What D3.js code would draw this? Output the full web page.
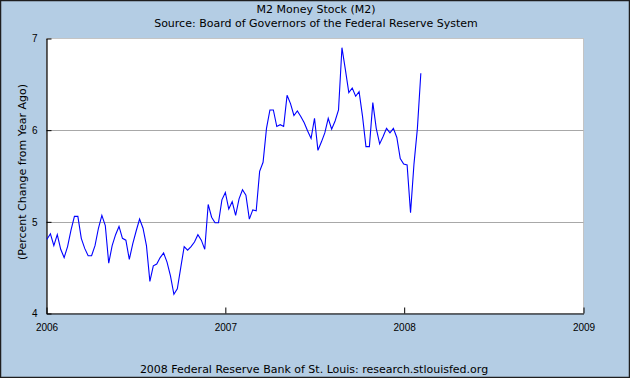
<!DOCTYPE html>
<html lang="en">
<head>
<meta charset="UTF-8">
<title>M2 Money Stock</title>
<script src="https://cdn.jsdelivr.net/npm/d3@7"></script>
<style>
    body { margin: 0; background: #fff; }
    svg { display: block; font-family: "DejaVu Sans", Verdana, sans-serif; }
    .tick text { font-size: 10px; fill: #000; }
</style>
</head>
<body>
<script>
// weekly readings, percent change from a year ago (Mondays from 2006-01-02)
var firstWeek = "2006-01-02";
var m2Change = [
    4.81, 4.87, 4.74, 4.86, 4.70, 4.61, 4.73, 4.91, 5.06, 5.06,
    4.82, 4.71, 4.63, 4.63, 4.74, 4.93, 5.07, 4.96, 4.55, 4.74,
    4.86, 4.95, 4.82, 4.80, 4.59, 4.76, 4.90, 5.03, 4.93, 4.74,
    4.35, 4.52, 4.54, 4.61, 4.66, 4.56, 4.41, 4.21, 4.27, 4.50,
    4.73, 4.69, 4.73, 4.78, 4.86, 4.80, 4.70, 5.19, 5.05, 4.99,
    4.99, 5.24, 5.32, 5.14, 5.22, 5.07, 5.25, 5.35, 5.29, 5.03,
    5.13, 5.12, 5.55, 5.65, 6.02, 6.22, 6.22, 6.04, 6.06, 6.04,
    6.38, 6.29, 6.16, 6.21, 6.15, 6.08, 5.99, 5.91, 6.13, 5.78,
    5.87, 5.97, 6.13, 6.01, 6.10, 6.22, 6.90, 6.66, 6.41, 6.46,
    6.37, 6.42, 6.15, 5.82, 5.82, 6.30, 6.02, 5.85, 5.93, 6.02,
    5.97, 6.02, 5.92, 5.69, 5.63, 5.62, 5.10, 5.63, 6.02, 6.62
];
var yearTicks = ["2006", "2007", "2008", "2009"];
var valueTicks = [4, 5, 6, 7];
var gridValues = [5, 6];

var W = 630, H = 378;
var plotL = 46.5, plotR = 583.5, plotT = 38.5, plotB = 313.5;

var parse = d3.timeParse("%Y-%m-%d");
var start = parse(firstWeek);
var series = m2Change.map(function (v, i) {
    return { date: d3.timeDay.offset(start, 7 * i), value: v };
});

var svg = d3.select("body").append("svg")
    .attr("width", W)
    .attr("height", H);

// outer frame
svg.append("rect")
    .attr("x", 0.5).attr("y", 0.5)
    .attr("width", W - 1).attr("height", H - 1)
    .attr("fill", "#b4cde4")
    .attr("stroke", "#1e1e1e")
    .attr("stroke-width", 1.5);

var x = d3.scaleTime()
    .domain([parse("2006-01-01"), parse("2009-01-01")])
    .range([plotL, plotR]);
var y = d3.scaleLinear()
    .domain([4, 7])
    .range([plotB, plotT]);

// plot area
svg.append("rect")
    .attr("x", plotL).attr("y", plotT)
    .attr("width", plotR - plotL).attr("height", plotB - plotT)
    .attr("fill", "#fff")
    .attr("stroke", "#c4c4c4");

svg.append("g").selectAll("line")
    .data(gridValues)
    .enter().append("line")
    .attr("x1", plotL).attr("x2", plotR)
    .attr("y1", function (d) { return Math.round(y(d)) + 0.5; })
    .attr("y2", function (d) { return Math.round(y(d)) + 0.5; })
    .attr("stroke", "#a8a8a8");

// axes, ticks pointing inward
var xAxis = d3.axisBottom(x)
    .tickValues(yearTicks.map(function (s) { return parse(s + "-01-01"); }))
    .tickFormat(d3.timeFormat("%Y"))
    .tickSizeInner(-6).tickSizeOuter(0).tickPadding(10);
var gx = svg.append("g")
    .attr("transform", "translate(0," + plotB + ")")
    .call(xAxis);

var yAxis = d3.axisLeft(y)
    .tickValues(valueTicks)
    .tickFormat(d3.format("d"))
    .tickSizeInner(-5).tickSizeOuter(0).tickPadding(9);
var gy = svg.append("g")
    .attr("transform", "translate(" + plotL + ",0)")
    .call(yAxis);

[gx, gy].forEach(function (g) {
    g.select(".domain").attr("stroke", "#000").attr("stroke-width", 1.2);
    g.selectAll(".tick line").attr("stroke", "#000");
});

// the series
var line = d3.line()
    .x(function (d) { return x(d.date); })
    .y(function (d) { return y(d.value); });

svg.append("path")
    .datum(series)
    .attr("d", line)
    .attr("fill", "none")
    .attr("stroke", "#0000ff")
    .attr("stroke-width", 1.1);

// titles
svg.append("text")
    .attr("x", 316).attr("y", 13)
    .attr("text-anchor", "middle")
    .style("font-size", "11px")
    .text("M2 Money Stock (M2)");
svg.append("text")
    .attr("x", 316).attr("y", 27)
    .attr("text-anchor", "middle")
    .style("font-size", "11px")
    .text("Source: Board of Governors of the Federal Reserve System");

svg.append("text")
    .attr("transform", "translate(26," + 172 + ") rotate(-90)")
    .attr("text-anchor", "middle")
    .style("font-size", "11px")
    .text("(Percent Change from Year Ago)");

svg.append("text")
    .attr("x", 314).attr("y", 373)
    .attr("text-anchor", "middle")
    .style("font-size", "11px")
    .text("2008 Federal Reserve Bank of St. Louis: research.stlouisfed.org");
</script>
</body>
</html>
